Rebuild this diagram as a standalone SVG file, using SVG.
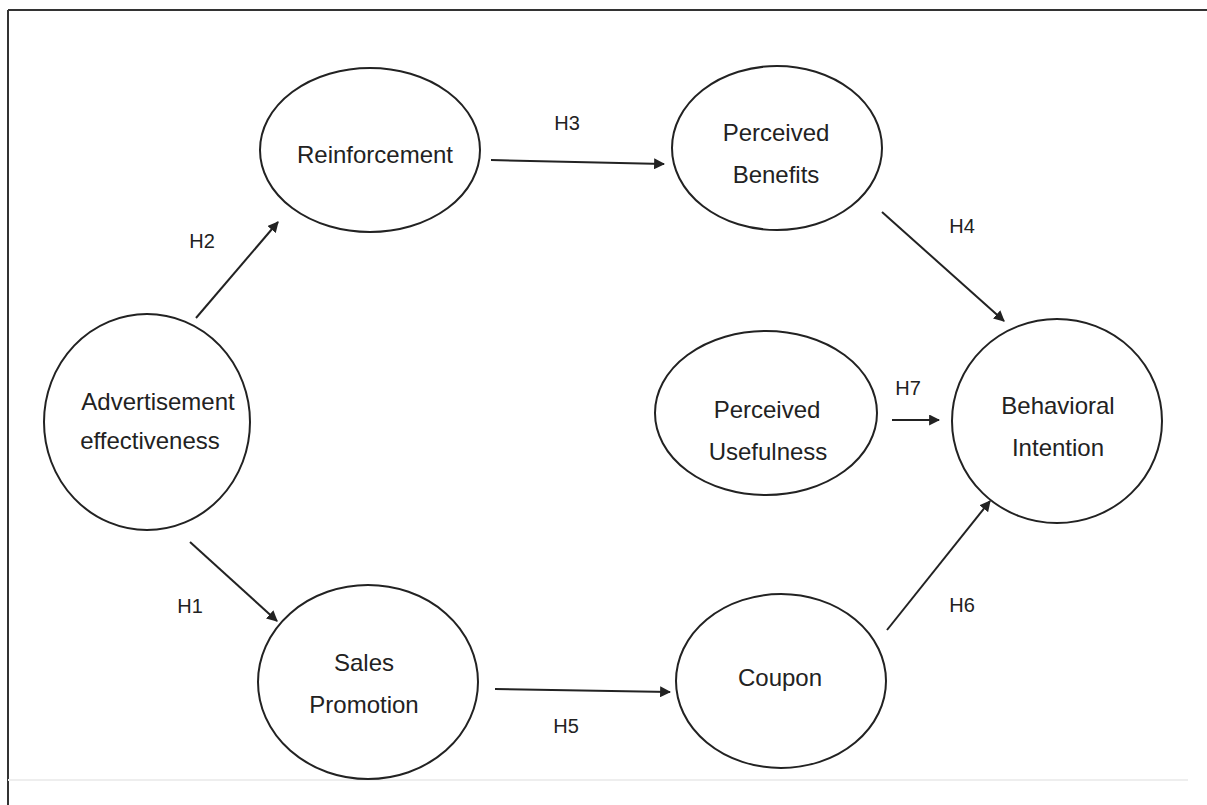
<svg xmlns="http://www.w3.org/2000/svg" width="1207" height="805" viewBox="0 0 1207 805">
<defs>
<style>
.node{fill:#fff;stroke:#222;stroke-width:2}
.lbl{font-family:"Liberation Sans",Arial,sans-serif;font-size:24px;fill:#222;text-anchor:middle}
.h{font-family:"Liberation Sans",Arial,sans-serif;font-size:20px;fill:#222;text-anchor:middle}
.edge{stroke:#222;stroke-width:2;fill:none;marker-end:url(#ah)}
</style>
<marker id="ah" viewBox="0 0 10 10" refX="9" refY="5" markerWidth="5.5" markerHeight="5.5" orient="auto" markerUnits="strokeWidth">
<path d="M0,0 L10,5 L0,10 z" fill="#222"/>
</marker>
</defs>
<rect width="1207" height="805" fill="#fff"/>
<g id="frame">
<line x1="8" y1="10" x2="1207" y2="10" stroke="#333" stroke-width="2"/>
<line x1="8" y1="10" x2="8" y2="805" stroke="#333" stroke-width="2"/>
<line x1="8" y1="780" x2="1188" y2="780" stroke="#eee" stroke-width="2"/>
</g>
<g id="connectors">
<line class="edge" x1="196" y1="318" x2="278" y2="222"/>
<line class="edge" x1="190" y1="542" x2="277" y2="621"/>
<line class="edge" x1="491" y1="160" x2="664" y2="164"/>
<line class="edge" x1="882" y1="212" x2="1004" y2="321"/>
<line class="edge" x1="892" y1="420" x2="939" y2="420"/>
<line class="edge" x1="887" y1="630" x2="990" y2="501"/>
<line class="edge" x1="495" y1="689" x2="670" y2="692"/>
<text class="h" x="202" y="248">H2</text>
<text class="h" x="190" y="613">H1</text>
<text class="h" x="567" y="130">H3</text>
<text class="h" x="962" y="233">H4</text>
<text class="h" x="908" y="395">H7</text>
<text class="h" x="962" y="612">H6</text>
<text class="h" x="566" y="733">H5</text>
</g>
<g id="advertisement">
<ellipse class="node" cx="147" cy="422" rx="103" ry="108"/>
<text class="lbl" x="158" y="410">Advertisement</text>
<text class="lbl" x="150" y="449">effectiveness</text>
</g>
<g id="reinforcement">
<ellipse class="node" cx="370" cy="150" rx="110" ry="82"/>
<text class="lbl" x="375" y="163">Reinforcement</text>
</g>
<g id="perceived-benefits">
<ellipse class="node" cx="777" cy="148" rx="105" ry="82"/>
<text class="lbl" x="776" y="141">Perceived</text>
<text class="lbl" x="776" y="183">Benefits</text>
</g>
<g id="perceived-usefulness">
<ellipse class="node" cx="766" cy="413" rx="111" ry="82"/>
<text class="lbl" x="767" y="418">Perceived</text>
<text class="lbl" x="768" y="460">Usefulness</text>
</g>
<g id="behavioral-intention">
<ellipse class="node" cx="1057" cy="421" rx="105" ry="102"/>
<text class="lbl" x="1058" y="414">Behavioral</text>
<text class="lbl" x="1058" y="456">Intention</text>
</g>
<g id="sales-promotion">
<ellipse class="node" cx="368" cy="682" rx="110" ry="97"/>
<text class="lbl" x="364" y="671">Sales</text>
<text class="lbl" x="364" y="713">Promotion</text>
</g>
<g id="coupon">
<ellipse class="node" cx="781" cy="681" rx="105" ry="87"/>
<text class="lbl" x="780" y="686">Coupon</text>
</g>
</svg>
